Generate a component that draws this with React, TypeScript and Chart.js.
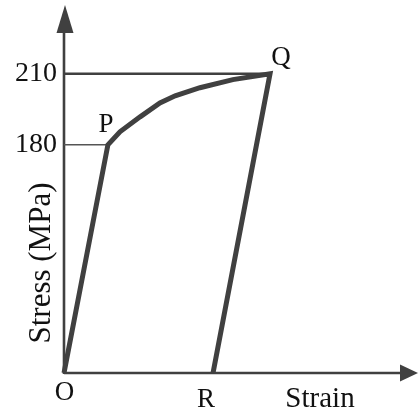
import React, { useEffect, useRef } from 'react';
import { Chart, registerables, LinearScale } from 'chart.js';

// ---- data (strain axis is schematic, 0–10 units) ----
const pointNames = ['O', 'P', '', '', '', '', '', '', 'Q', 'R'];
const strainValues = [0, 1.24, 1.58, 2.15, 2.71, 3.14, 3.84, 4.77, 5.82, 4.21];
const stressValues = [0, 180, 185.5, 191.8, 197.7, 200.7, 204.1, 207.5, 210, 0];
const stressTicks = [180, 210];
const xAxisTitle = 'Strain';
const yAxisTitle = 'Stress (MPa)';

// schematic (broken) stress axis: the elastic part below the yield stress is compressed
const YIELD_STRESS = 180;
const ELASTIC_COMPRESSION = 0.535;
const warp = (v: number) => (v >= YIELD_STRESS ? v : YIELD_STRESS - (YIELD_STRESS - v) * ELASTIC_COMPRESSION);
const unwarp = (w: number) => (w >= YIELD_STRESS ? w : YIELD_STRESS - (YIELD_STRESS - w) / ELASTIC_COMPRESSION);

class SchematicScale extends LinearScale {
  static id = 'schematic';
  static defaults = LinearScale.defaults;
  configure() {
    super.configure();
    (this as any)._startValue = warp(this.min);
    (this as any)._endValue = warp(this.max);
    (this as any)._valueRange = warp(this.max) - warp(this.min);
  }
  getPixelForValue(value: number) {
    if (value === null || value === undefined) return NaN;
    return this.getPixelForDecimal((warp(value) - (this as any)._startValue) / (this as any)._valueRange);
  }
  getValueForPixel(pixel: number) {
    return unwarp((this as any)._startValue + this.getDecimalForPixel(pixel) * (this as any)._valueRange);
  }
}

Chart.register(...registerables, SchematicScale);

const INK = '#404040';
const serif = (size: number) => `${size}px "Liberation Serif", "Times New Roman", serif`;

const labelOffsets: Record<string, [number, number]> = {
  O: [0.5, 20],
  P: [-2, -20],
  Q: [11, -16],
  R: [-7, 27],
};

const overlay = {
  id: 'overlay',
  beforeDatasetsDraw(chart: any) {
    const { ctx, chartArea } = chart;
    const { left, right, top, bottom } = chartArea;
    ctx.save();
    ctx.strokeStyle = INK;
    ctx.fillStyle = INK;
    ctx.lineWidth = 2.6;
    // y axis
    ctx.beginPath();
    ctx.moveTo(left, bottom + 1);
    ctx.lineTo(left, top + 20);
    ctx.stroke();
    ctx.beginPath();
    ctx.moveTo(left + 1, top);
    ctx.lineTo(left + 9.5, top + 28);
    ctx.lineTo(left - 7.5, top + 28);
    ctx.closePath();
    ctx.fill();
    // x axis
    ctx.beginPath();
    ctx.moveTo(left, bottom);
    ctx.lineTo(right - 15, bottom);
    ctx.stroke();
    ctx.beginPath();
    ctx.moveTo(right, bottom);
    ctx.lineTo(right - 18, bottom - 8.5);
    ctx.lineTo(right - 18, bottom + 8.5);
    ctx.closePath();
    ctx.fill();
    ctx.restore();
  },
  afterDatasetsDraw(chart: any) {
    const { ctx, chartArea } = chart;
    const { left, right, bottom } = chartArea;
    const meta = chart.getDatasetMeta(0);
    ctx.save();
    ctx.fillStyle = '#111';
    ctx.textAlign = 'center';
    ctx.textBaseline = 'middle';
    ctx.font = serif(27);
    pointNames.forEach((name, i) => {
      if (!name) return;
      const el = meta.data[i];
      const [dx, dy] = labelOffsets[name] || [0, 0];
      ctx.fillText(name, el.x + dx, el.y + dy);
    });
    ctx.font = serif(29);
    ctx.fillText(xAxisTitle, right - 98, bottom + 26);
    ctx.translate(left - 22, bottom - 110);
    ctx.rotate(-Math.PI / 2);
    ctx.font = serif(31);
    ctx.fillText(yAxisTitle, 0, 0);
    ctx.restore();
  },
};

export default function App() {
  const ref = useRef<HTMLCanvasElement>(null);
  useEffect(() => {
    const curve = strainValues.map((x, i) => ({ x, y: stressValues[i] }));
    const guides = stressTicks.map((t) => {
      const idx = stressValues.indexOf(t);
      return [
        { x: 0, y: t },
        { x: strainValues[idx], y: t },
      ];
    });
    const chart = new Chart(ref.current!, {
      type: 'line',
      data: {
        datasets: [
          {
            data: curve,
            borderColor: INK,
            borderWidth: 5,
            pointRadius: 0,
            tension: 0,
            borderJoinStyle: 'miter',
            borderCapStyle: 'butt',
            clip: false,
          } as any,
          ...guides.map((g, i) => ({
            data: g,
            borderColor: i === 0 ? '#555' : INK,
            borderWidth: i === 0 ? 1.6 : 2.6,
            pointRadius: 0,
            clip: false,
          })),
        ],
      },
      options: {
        animation: false,
        responsive: true,
        maintainAspectRatio: false,
        layout: { padding: { left: 0, right: 1, top: 5, bottom: 42 } },
        plugins: { legend: { display: false }, tooltip: { enabled: false } },
        scales: {
          x: { type: 'linear', display: false, min: 0, max: 10 },
          y: {
            type: 'schematic' as any,
            position: 'left',
            min: 0,
            max: 239,
            bounds: 'data',
            grid: { display: false, drawTicks: false },
            border: { display: false },
            ticks: {
              padding: 7,
              color: '#111',
              font: { family: '"Liberation Serif", "Times New Roman", serif', size: 28 },
            },
            afterBuildTicks: (scale: any) => {
              scale.ticks = stressTicks.map((value) => ({ value }));
            },
            afterFit: (scale: any) => {
              scale.width = 64;
              scale.paddingTop = 0;
              scale.paddingBottom = 0;
            },
          } as any,
        },
      },
      plugins: [overlay],
    });
    return () => chart.destroy();
  }, []);
  return (
    <div style={{ position: 'fixed', left: 0, top: 0, width: 419, height: 415 }}>
      <canvas ref={ref} />
    </div>
  );
}
